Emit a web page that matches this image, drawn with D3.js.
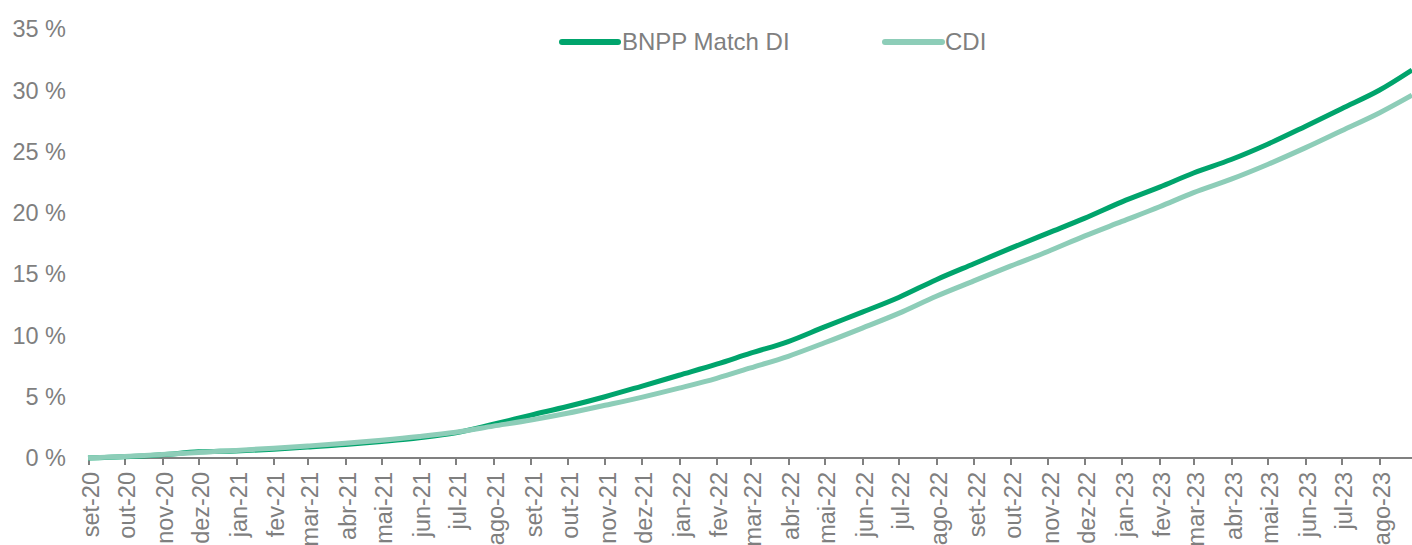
<!DOCTYPE html>
<html>
  <head>
    <meta http-equiv="Content-Type" content="text/html;charset=utf-8"/>
    <style type="text/css">

body {
  margin: 0;
  background: #fff;
}

svg {
  font-family: "Liberation Sans", Arial, sans-serif;
}

.axis path, .axis line {
  fill: none;
  stroke: #808080;
  stroke-width: 2px;
  shape-rendering: crispEdges;
}

.axis text, .ylabel {
  fill: #7f7f7f;
  font-size: 23.5px;
}

.legend text {
  fill: #7f7f7f;
  font-size: 24px;
}

.series {
  fill: none;
  stroke-width: 5px;
  stroke-linejoin: round;
}

    </style>
  </head>
  <body>
    <svg></svg>

    <script type="text/javascript" src="https://cdn.jsdelivr.net/npm/d3@7"></script>

    <script type="text/javascript">

// monthly readings (first day of each month), % accumulated
var months = ["2020-09-01","2020-10-01","2020-11-01","2020-12-01","2021-01-01","2021-02-01",
  "2021-03-01","2021-04-01","2021-05-01","2021-06-01","2021-07-01","2021-08-01",
  "2021-09-01","2021-10-01","2021-11-01","2021-12-01","2022-01-01","2022-02-01",
  "2022-03-01","2022-04-01","2022-05-01","2022-06-01","2022-07-01","2022-08-01",
  "2022-09-01","2022-10-01","2022-11-01","2022-12-01","2023-01-01","2023-02-01",
  "2023-03-01","2023-04-01","2023-05-01","2023-06-01","2023-07-01","2023-08-01","2023-08-28"];

var bnpp = [0, 0.1, 0.27, 0.5, 0.58, 0.72, 0.9, 1.1, 1.35, 1.65, 2.05, 2.75,
  3.5, 4.2, 5.0, 5.85, 6.75, 7.65, 8.55, 9.5, 10.7, 11.9, 13.1, 14.55,
  15.85, 17.1, 18.35, 19.55, 20.9, 22.1, 23.25, 24.35, 25.6, 27.05, 28.5, 30.0, 31.65];

var cdi = [0, 0.12, 0.28, 0.45, 0.62, 0.8, 0.98, 1.2, 1.45, 1.75, 2.1, 2.6,
  3.1, 3.65, 4.3, 4.95, 5.7, 6.5, 7.35, 8.3, 9.4, 10.6, 11.8, 13.2,
  14.45, 15.65, 16.85, 18.1, 19.3, 20.5, 21.65, 22.75, 23.95, 25.3, 26.7, 28.15, 29.6];

var yTicks = [0, 5, 10, 15, 20, 25, 30, 35];

var series = [
  {name: "BNPP Match DI", values: bnpp, color: "#00a46c"},
  {name: "CDI", values: cdi, color: "#8dcdb8"}
];

var W = 1412, H = 545;
var parse = d3.timeParse("%Y-%m-%d");
var dates = months.map(parse);

var ptMonths = ["jan","fev","mar","abr","mai","jun","jul","ago","set","out","nov","dez"];

var svg = d3.select("svg")
    .attr("width", W)
    .attr("height", H);

var x = d3.scaleTime()
    .domain([dates[0], dates[dates.length - 1]])
    .range([88, 1412]);

var y = d3.scaleLinear()
    .domain([0, 35])
    .range([458, 29]);

// y labels (no axis line in the original)
svg.selectAll(".ylabel")
    .data(yTicks)
  .enter().append("text")
    .attr("class", "ylabel")
    .attr("x", 66)
    .attr("y", function(d) { return y(d); })
    .attr("dy", "0.35em")
    .attr("text-anchor", "end")
    .text(function(d) { return d + " %"; });

// x axis
var xAxis = d3.axisBottom(x)
    .ticks(d3.timeMonth.every(1))
    .tickSize(7)
    .tickFormat(function(d) {
      return ptMonths[d.getMonth()] + "-" + d3.timeFormat("%y")(d);
    });

var gx = svg.append("g")
    .attr("class", "axis")
    .attr("transform", "translate(0," + y(0) + ")")
    .call(xAxis);

gx.select(".domain").attr("d", "M88,0H1412");

gx.selectAll(".tick text")
    .attr("text-anchor", "end")
    .attr("transform", "translate(2,14) rotate(-90)")
    .attr("x", 0)
    .attr("y", 0)
    .attr("dy", "0.35em");

// lines
var line = d3.line()
    .x(function(d, i) { return x(dates[i]); })
    .y(function(d) { return y(d); })
    .curve(d3.curveMonotoneX);

svg.selectAll(".series")
    .data(series)
  .enter().append("path")
    .attr("class", "series")
    .attr("stroke", function(d) { return d.color; })
    .attr("d", function(d) { return line(d.values); });

// legend
var legendPos = [[562, 618, 622], [885, 942, 945]];

var legend = svg.selectAll(".legend")
    .data(series)
  .enter().append("g")
    .attr("class", "legend");

legend.append("line")
    .attr("x1", function(d, i) { return legendPos[i][0]; })
    .attr("x2", function(d, i) { return legendPos[i][1]; })
    .attr("y1", 42)
    .attr("y2", 42)
    .attr("stroke", function(d) { return d.color; })
    .attr("stroke-width", 6)
    .attr("stroke-linecap", "round");

legend.append("text")
    .attr("x", function(d, i) { return legendPos[i][2]; })
    .attr("y", 42)
    .attr("dy", "0.35em")
    .text(function(d) { return d.name; });

    </script>
  </body>
</html>
